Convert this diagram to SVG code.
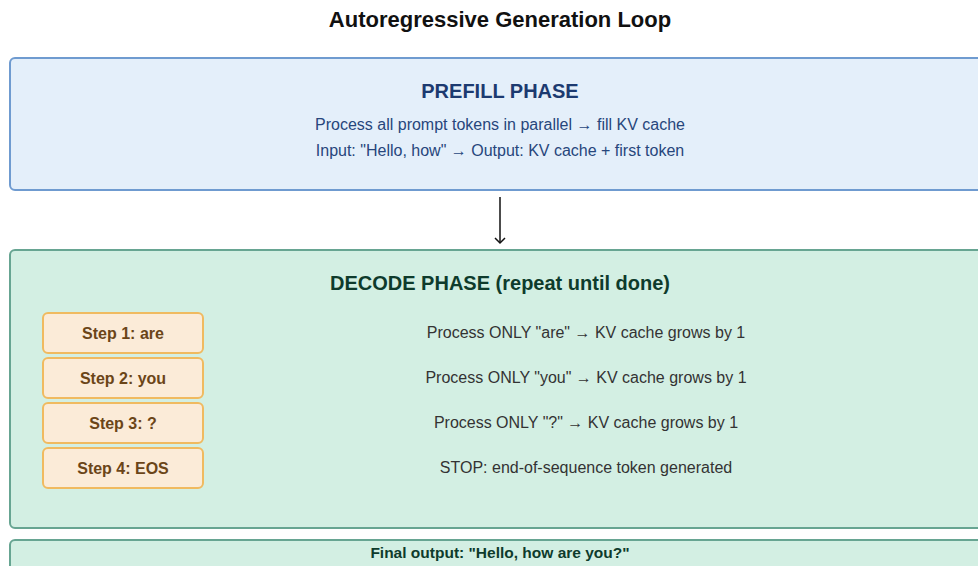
<svg xmlns="http://www.w3.org/2000/svg" width="978" height="566" viewBox="0 0 978 566">
<defs>
<style>
.t{font-family:"Liberation Sans",Arial,sans-serif;text-anchor:middle}
.title{font-size:22px;font-weight:bold;fill:#111}
.phase{fill:#e4effa;stroke:#6f9bd0;stroke-width:2}
.dec{fill:#d3efe3;stroke:#67a592;stroke-width:2}
.step{fill:#fbebd8;stroke:#f0ba60;stroke-width:2}
.ph1{font-size:20px;font-weight:bold;fill:#1c3a70}
.ph1s{font-size:16px;fill:#27467c}
.ph2{font-size:20px;font-weight:bold;fill:#0e3b2c}
.stx{font-size:16px;font-weight:bold;fill:#6b4518}
.desc{font-size:16px;fill:#333}
.fin{font-size:15.5px;font-weight:bold;fill:#0e3b2c}
</style>
<marker id="ah" markerWidth="12" markerHeight="12" refX="10" refY="6" orient="auto" markerUnits="userSpaceOnUse" viewBox="0 0 12 12">
<path d="M5,1 L10,6 L5,11" fill="none" stroke="#111" stroke-width="1.5"/>
</marker>
</defs>
<rect width="978" height="566" fill="#fff"/>
<text class="t title" x="500" y="27">Autoregressive Generation Loop</text>
<g id="prefill">
<rect class="phase" x="10" y="58" width="980" height="132" rx="5"/>
<text class="t ph1" x="500" y="98">PREFILL PHASE</text>
<text class="t ph1s" x="500" y="130">Process all prompt tokens in parallel → fill KV cache</text>
<text class="t ph1s" x="500" y="156">Input: "Hello, how" → Output: KV cache + first token</text>
</g>
<g id="connectors">
<line x1="500" y1="197" x2="500" y2="243" stroke="#111" stroke-width="1.5" marker-end="url(#ah)"/>
</g>
<g id="decode">
<rect class="dec" x="10" y="250" width="980" height="278" rx="5"/>
<text class="t ph2" x="500" y="290">DECODE PHASE (repeat until done)</text>
</g>
<g id="step1">
<rect class="step" x="43" y="313" width="160" height="40" rx="5"/>
<text class="t stx" x="123" y="339">Step 1: are</text>
<text class="t desc" x="586" y="338">Process ONLY "are" → KV cache grows by 1</text>
</g>
<g id="step2">
<rect class="step" x="43" y="358" width="160" height="40" rx="5"/>
<text class="t stx" x="123" y="384">Step 2: you</text>
<text class="t desc" x="586" y="383">Process ONLY "you" → KV cache grows by 1</text>
</g>
<g id="step3">
<rect class="step" x="43" y="403" width="160" height="40" rx="5"/>
<text class="t stx" x="123" y="429">Step 3: ?</text>
<text class="t desc" x="586" y="428">Process ONLY "?" → KV cache grows by 1</text>
</g>
<g id="step4">
<rect class="step" x="43" y="448" width="160" height="40" rx="5"/>
<text class="t stx" x="123" y="474">Step 4: EOS</text>
<text class="t desc" x="586" y="473">STOP: end-of-sequence token generated</text>
</g>
<g id="final">
<rect class="dec" x="10" y="540" width="980" height="40" rx="5"/>
<text class="t fin" x="500" y="558">Final output: "Hello, how are you?"</text>
</g>
</svg>
